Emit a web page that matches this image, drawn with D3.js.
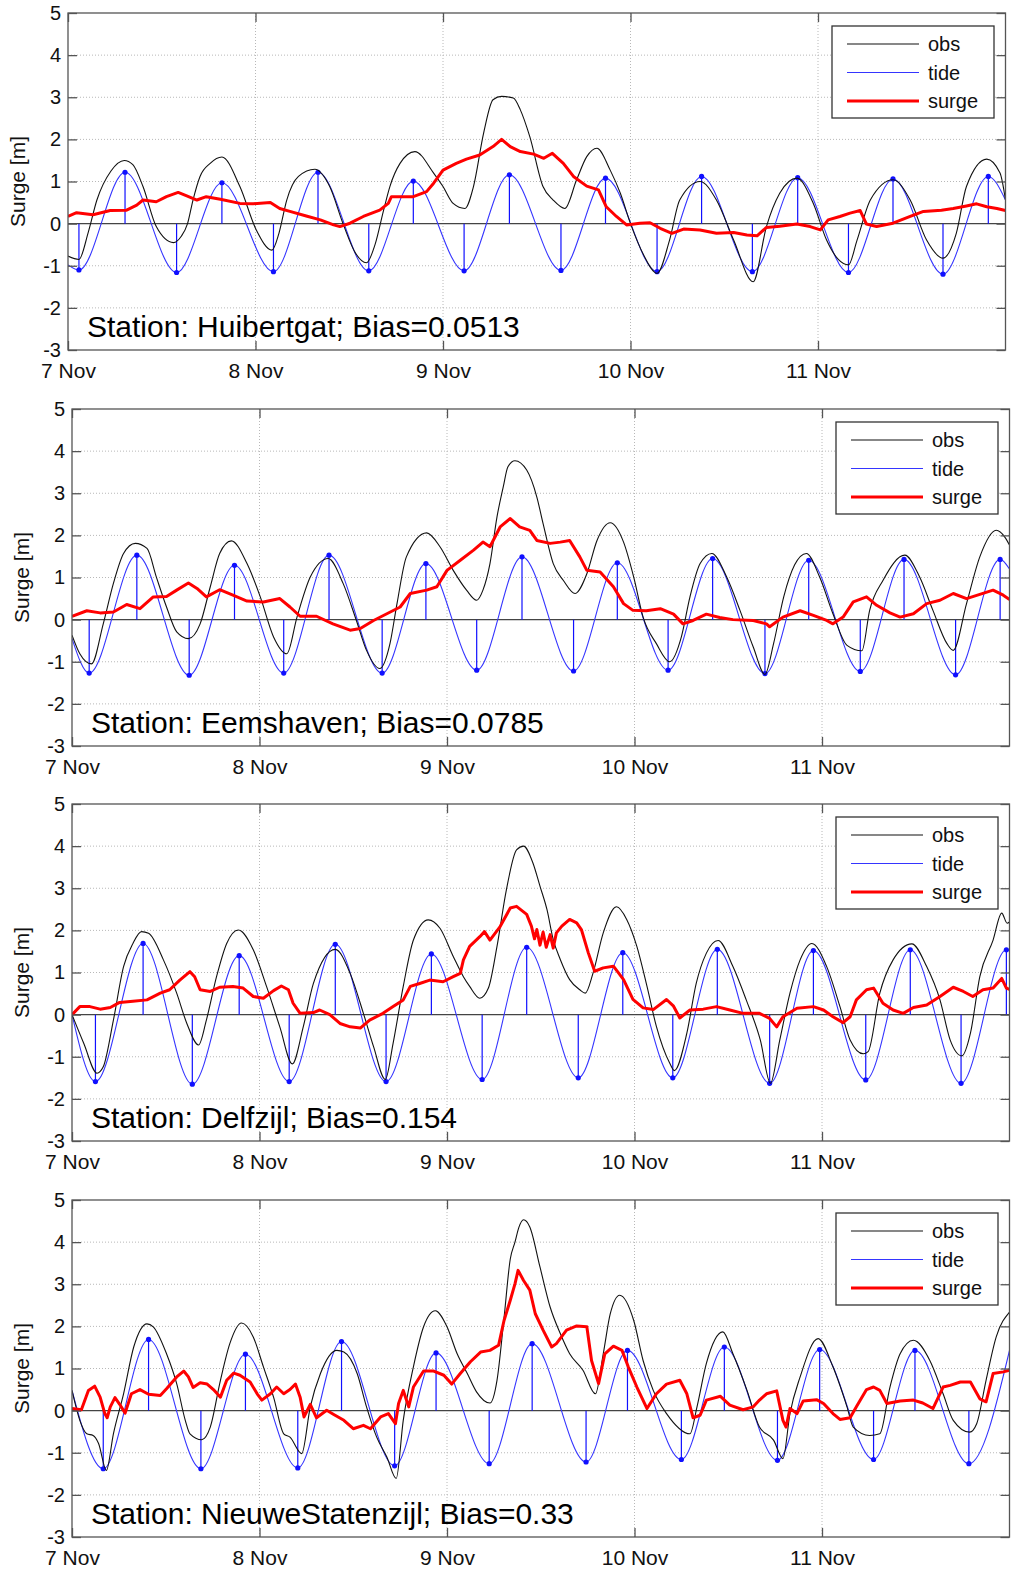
<!DOCTYPE html>
<html>
<head>
<meta charset="utf-8">
<script src="https://cdn.jsdelivr.net/npm/d3@7"></script>
<style>
  body { margin: 0; background: #fff; }
  svg { display: block; }
  text { font-family: "Liberation Sans", Arial, Helvetica, sans-serif; }
</style>
</head>
<body>
<svg id="chart" width="1013" height="1573"></svg>
<script>
// ---- axis labels -------------------------------------------------------
const dayLabels = ["7 Nov", "8 Nov", "9 Nov", "10 Nov", "11 Nov"];
const dayHours = [0, 24, 48, 72, 96];          // hours since 7 Nov 00:00
const surgeTicks = [-3, -2, -1, 0, 1, 2, 3, 4, 5];
const seriesNames = ["obs", "tide", "surge"];

const stationNames = ["Huibertgat", "Eemshaven", "Delfzijl", "NieuweStatenzijl"];
const stationBias = ["0.0513", "0.0785", "0.154", "0.33"];

// ---- Huibertgat: [hour, metres] -----------------------------------------
const huibertgatTide = [[0,-0.98],[1.4,-1.10],[7.3,1.22],[13.9,-1.16],[19.7,0.97],[26.3,-1.14],[32.0,1.22],[38.5,-1.12],[44.2,1.01],[50.7,-1.12],[56.5,1.16],[63.1,-1.11],[68.8,1.08],[75.4,-1.14],[81.1,1.12],[87.6,-1.14],[93.4,1.09],[99.9,-1.16],[105.6,1.06],[112.0,-1.20],[117.8,1.12],[120,0.56]];
const huibertgatObs = [[0,-0.77],[1.4,-0.85],[2.6,-0.2],[3.7,0.56],[5.5,1.25],[7.2,1.50],[8.3,1.40],[9.6,0.88],[11.3,-0.07],[13.5,-0.45],[14.5,-0.30],[15.3,0.0],[16.0,0.56],[16.9,1.12],[18.2,1.43],[19.7,1.58],[22,0.88],[24.1,-0.15],[26.1,-0.63],[27.0,-0.23],[28,0.56],[29.5,1.12],[31.6,1.29],[33.5,0.88],[35.2,0.0],[36.8,-0.70],[38.2,-0.93],[39.3,-0.5],[40.4,0.32],[41.2,0.88],[42.5,1.43],[44.4,1.71],[46.8,1.2],[48.0,0.88],[49.3,0.48],[50.8,0.36],[51.9,0.88],[53.2,2.15],[54.4,2.94],[55.5,3.02],[57.0,2.98],[57.9,2.70],[59.1,2.07],[60.8,0.88],[62.1,0.56],[63.6,0.36],[65.1,1.04],[66.4,1.59],[67.7,1.79],[69.4,1.27],[70.7,0.72],[72.0,0.0],[73.7,-0.75],[75.4,-1.18],[77.0,-0.39],[78.3,0.56],[80.9,1.0],[83.0,0.56],[85.2,-0.39],[87.7,-1.38],[89.4,-0.07],[91.1,0.72],[93.3,1.08],[95.4,0.48],[97.1,-0.39],[98.6,-0.85],[99.9,-0.98],[101,-0.39],[102.7,0.56],[105.6,1.04],[107.8,0.56],[109.9,-0.39],[112.0,-0.82],[113.7,-0.23],[115,0.88],[117.6,1.53],[119.3,1.2],[120,0.56]];
const huibertgatSurge = [[0,0.17],[1.1,0.26],[3.2,0.21],[5.4,0.31],[7.5,0.32],[8.8,0.44],[9.6,0.56],[11.3,0.52],[12.6,0.64],[14.1,0.74],[15.2,0.66],[16.5,0.56],[17.7,0.64],[19.5,0.58],[22,0.48],[23.7,0.47],[25.9,0.5],[27.1,0.36],[28.4,0.29],[30.5,0.18],[32.3,0.09],[34,-0.03],[34.8,-0.07],[36.1,0.01],[37.8,0.17],[39.9,0.32],[41,0.48],[41.4,0.64],[44.2,0.64],[45.9,0.76],[46.8,0.96],[48,1.27],[49.7,1.43],[51,1.53],[52.7,1.63],[54.4,1.83],[55.5,2.0],[56.6,1.83],[57.9,1.71],[59.6,1.65],[60.9,1.55],[62,1.67],[63.4,1.43],[64.7,1.12],[66.4,0.89],[67.9,0.80],[68.9,0.40],[70.2,0.17],[71.5,-0.03],[73.2,0.01],[74.5,0.02],[75.8,-0.11],[77.3,-0.23],[78.8,-0.13],[80.9,-0.15],[83,-0.23],[85.2,-0.21],[86.9,-0.27],[88.2,-0.29],[89.4,-0.09],[91.1,-0.06],[93.3,-0.01],[95,-0.07],[96.3,-0.15],[97.3,0.09],[98.8,0.17],[100.1,0.25],[101.4,0.31],[102.2,-0.01],[103.5,-0.07],[105.6,0.01],[107.8,0.17],[109.5,0.29],[111.8,0.32],[113.3,0.36],[115,0.42],[116.3,0.47],[117.6,0.40],[118.9,0.36],[120,0.31]];

// ---- Eemshaven ----------------------------------------------------------
const eemshavenTide = [[0,-0.45],[2.2,-1.27],[8.3,1.53],[15.0,-1.32],[20.8,1.29],[27.1,-1.27],[32.9,1.53],[39.7,-1.27],[45.3,1.33],[51.8,-1.20],[57.6,1.49],[64.2,-1.22],[69.8,1.35],[76.3,-1.20],[82.0,1.45],[88.7,-1.28],[94.3,1.41],[100.9,-1.23],[106.5,1.43],[113.1,-1.31],[118.8,1.43],[120,1.2]];
const eemshavenObs = [[0,-0.37],[1,-0.81],[2.5,-1.05],[4,-0.1],[5.3,0.86],[6.6,1.57],[8.1,1.81],[9.6,1.69],[10.8,1.01],[12.1,0.30],[13.4,-0.29],[14.9,-0.45],[16.4,-0.1],[17.7,0.78],[18.9,1.57],[20.4,1.87],[22.4,1.33],[24.1,0.54],[25.8,-0.41],[27.5,-0.81],[28.8,0.06],[30.5,1.01],[32.8,1.45],[34.7,0.86],[36.4,-0.02],[37.7,-0.73],[39.4,-1.16],[40.7,-0.57],[41.6,0.38],[42.8,1.49],[45.4,2.06],[47.1,1.73],[48.8,1.17],[50.5,0.70],[51.8,0.46],[52.6,0.70],[53.5,1.33],[54.4,2.44],[55.2,3.15],[55.8,3.63],[56.7,3.77],[58.2,3.55],[59.5,2.91],[60.3,2.28],[61.6,1.33],[62.9,0.93],[64.4,0.62],[65.9,1.09],[67.2,1.88],[68.9,2.30],[70.6,1.84],[71.9,1.01],[73.1,0.06],[74.8,-0.57],[76.5,-1.0],[78.0,-0.41],[79.1,0.54],[80.4,1.33],[81.9,1.57],[83.8,1.01],[85.5,0.22],[87.2,-0.65],[88.7,-1.30],[89.8,-0.57],[91.1,0.54],[92.5,1.3],[94.0,1.57],[95.7,1.01],[97.4,0.14],[99.2,-0.61],[101.1,-0.74],[102.1,0.22],[103.8,0.93],[106.6,1.53],[108.5,1.01],[110.2,0.22],[112.0,-0.57],[112.8,-0.73],[114.5,0.38],[116.2,1.49],[118.3,2.12],[119.4,1.96],[120,1.77]];
const eemshavenSurge = [[0,0.08],[1.9,0.21],[3.6,0.16],[5.3,0.18],[7.0,0.36],[8.7,0.26],[10.4,0.54],[12.1,0.55],[13.4,0.70],[14.9,0.87],[16.0,0.74],[17.2,0.54],[18.9,0.71],[20.6,0.58],[22.4,0.44],[24.5,0.42],[26.6,0.50],[27.9,0.30],[29.2,0.08],[31.3,0.08],[33.4,-0.10],[35.6,-0.25],[36.9,-0.21],[38.6,-0.02],[40.3,0.14],[42.0,0.30],[43.3,0.62],[45.4,0.70],[46.7,0.78],[48.0,1.17],[49.7,1.41],[51.4,1.65],[52.6,1.84],[53.5,1.73],[54.8,2.2],[56.1,2.40],[57.3,2.2],[58.6,2.12],[59.5,1.88],[61.2,1.81],[62.5,1.84],[63.7,1.88],[65.0,1.49],[65.9,1.17],[67.6,1.13],[69.3,0.78],[70.6,0.38],[71.8,0.22],[73.5,0.21],[75.3,0.26],[77.0,0.13],[78.2,-0.10],[79.5,-0.02],[81.2,0.13],[82.9,0.05],[84.6,0],[87.2,-0.02],[88.9,-0.10],[89.3,-0.17],[91.0,0.06],[93.2,0.21],[94.9,0.10],[96.6,-0.02],[97.4,-0.10],[98.7,0.06],[100.0,0.42],[101.7,0.54],[103.0,0.34],[104.7,0.16],[106.0,0.06],[107.7,0.14],[109.4,0.38],[111.1,0.46],[112.8,0.62],[114.5,0.50],[116.2,0.60],[117.9,0.70],[119.2,0.58],[120,0.48]];

// ---- Delfzijl -----------------------------------------------------------
const delfzijlTide = [[0,0],[3.0,-1.59],[9.1,1.69],[15.4,-1.65],[21.4,1.40],[27.8,-1.59],[33.7,1.67],[40.2,-1.59],[46.0,1.44],[52.5,-1.54],[58.2,1.60],[64.8,-1.50],[70.5,1.47],[76.9,-1.50],[82.6,1.55],[89.3,-1.63],[94.9,1.52],[101.6,-1.55],[107.3,1.54],[113.8,-1.63],[119.6,1.54],[120,1.52]];
const delfzijlObs = [[0,0],[1.5,-0.68],[3.2,-1.39],[4.0,-1.24],[5.3,-0.13],[6.6,1.14],[7.8,1.69],[8.9,1.97],[9.8,1.93],[11.7,1.30],[13.4,0.51],[14.7,-0.21],[16.2,-0.72],[17.2,-0.13],[18.5,0.90],[19.8,1.69],[21.3,2.01],[23.2,1.54],[24.9,0.67],[26.6,-0.29],[28.2,-1.17],[29.6,-0.29],[30.9,0.74],[33.7,1.55],[35.6,0.98],[37.3,0.03],[38.6,-0.76],[40.1,-1.54],[41.1,-0.68],[42.4,0.67],[43.7,1.77],[45.6,2.25],[47.1,2.05],[48.8,1.38],[50.1,0.90],[50.9,0.67],[52.2,0.39],[53.3,0.63],[54.4,1.62],[55.6,2.96],[56.9,3.91],[57.8,4.0],[59.0,3.6],[59.9,3.05],[60.8,2.49],[61.6,1.78],[62.5,1.31],[63.7,0.83],[65.0,0.59],[65.7,0.51],[66.7,0.99],[68.0,1.94],[69.7,2.56],[71.0,2.26],[72.3,1.62],[73.6,0.67],[74.8,-0.28],[76.5,-1.15],[77.1,-1.33],[78.7,-0.44],[79.9,0.74],[81.2,1.46],[82.7,1.76],[84.6,1.14],[86.3,0.35],[88.1,-0.60],[89.4,-1.63],[90.6,-0.60],[91.9,0.51],[93.2,1.30],[94.7,1.69],[96.6,1.14],[98.3,0.19],[99.6,-0.60],[101.3,-0.93],[101.9,-0.88],[103.4,0.51],[105.1,1.30],[107.5,1.68],[109.4,1.14],[111.1,0.35],[112.4,-0.60],[113.9,-0.98],[115.0,-0.44],[116.2,0.90],[117.9,1.77],[119.0,2.41],[119.7,2.17],[120,2.2]];
const delfzijlSurge = [[0,0],[1.0,0.19],[2.3,0.19],[3.6,0.13],[4.9,0.17],[6.1,0.29],[7.8,0.32],[9.6,0.35],[11.3,0.51],[12.5,0.59],[13.8,0.82],[15.1,1.02],[15.7,0.90],[16.4,0.59],[17.7,0.55],[18.9,0.65],[20.6,0.67],[21.9,0.63],[23.2,0.43],[24.5,0.39],[25.8,0.57],[26.8,0.68],[27.7,0.59],[28.3,0.27],[29.2,0.03],[30.9,0.05],[31.7,0.11],[33.0,0],[34.3,-0.21],[35.6,-0.29],[36.9,-0.32],[38.1,-0.13],[39.8,0.03],[41.1,0.19],[42.4,0.35],[43.3,0.67],[44.5,0.74],[45.8,0.82],[47.5,0.78],[48.8,0.90],[49.7,0.98],[50.1,1.30],[50.9,1.62],[52.2,1.85],[52.8,1.97],[53.5,1.77],[54.8,2.09],[56.1,2.53],[56.9,2.57],[58.2,2.38],[58.8,2.10],[59.2,1.80],[59.5,2.02],[59.9,1.65],[60.3,1.96],[60.7,1.60],[61.2,1.90],[61.6,1.58],[62.0,1.94],[62.7,2.10],[63.7,2.26],[64.6,2.18],[65.2,2.02],[66.1,1.46],[66.9,1.03],[68.0,1.11],[69.3,1.15],[70.6,0.83],[71.8,0.36],[73.1,0.16],[74.4,0.12],[76.1,0.36],[77.0,0.20],[77.8,-0.08],[79.1,0.11],[80.8,0.13],[82.5,0.19],[84.2,0.11],[85.9,0.03],[88.0,0.03],[89.3,-0.09],[90.2,-0.29],[91.0,-0.05],[92.8,0.15],[94.9,0.19],[96.2,0.11],[97.4,-0.05],[98.7,-0.19],[99.6,-0.05],[100.4,0.35],[101.7,0.59],[102.6,0.63],[103.8,0.27],[105.1,0.11],[106.4,0.03],[107.7,0.17],[109.4,0.23],[111.1,0.43],[112.8,0.65],[114.1,0.55],[115.3,0.43],[116.6,0.59],[117.9,0.63],[119.0,0.86],[119.6,0.63],[120,0.6]];

// ---- NieuweStatenzijl ---------------------------------------------------
const nieuweStatenzijlTide = [[0,0.48],[4.0,-1.38],[9.8,1.69],[16.5,-1.38],[22.2,1.34],[28.9,-1.36],[34.5,1.64],[41.3,-1.31],[46.6,1.37],[53.4,-1.26],[58.9,1.59],[65.8,-1.22],[71.1,1.43],[78.0,-1.16],[83.5,1.51],[90.3,-1.18],[95.7,1.45],[102.6,-1.16],[107.9,1.43],[114.8,-1.26],[120,1.43]];
const nieuweStatenzijlObs = [[0,0.48],[1.0,-0.23],[1.9,-0.55],[2.7,-0.59],[3.4,-0.78],[4.4,-1.42],[5.3,-0.55],[6.6,0.40],[7.9,1.51],[9.6,2.06],[10.4,1.99],[12.1,1.35],[13.4,0.64],[14.5,-0.23],[15.1,-0.55],[16.6,-0.69],[17.7,-0.39],[19.0,0.72],[20.2,1.59],[21.7,2.08],[23.2,1.75],[24.5,1.04],[25.8,0.32],[27.1,-0.55],[27.9,-0.63],[29.4,-1.02],[30.5,0.09],[31.8,0.88],[33.9,1.43],[34.8,1.39],[36.5,0.88],[37.7,0.09],[39.0,-0.63],[40.3,-1.10],[41.5,-1.61],[42.4,-0.23],[43.7,1.04],[45.0,1.99],[46.5,2.37],[48.0,1.99],[49.3,1.35],[50.6,0.88],[51.8,0.44],[53.5,0.18],[54.4,0.72],[55.3,2.2],[56.1,3.6],[56.7,4.0],[57.2,4.35],[57.8,4.53],[58.6,4.36],[59.9,3.41],[61.2,2.46],[62.5,1.83],[63.7,1.35],[65.4,0.96],[67.0,0.40],[68.0,1.35],[68.9,2.30],[70.1,2.74],[71.9,2.14],[73.1,1.19],[74.4,0.48],[76.1,-0.07],[79.1,-0.55],[80.0,0.09],[81.2,1.12],[83.3,1.87],[84.6,1.35],[86.4,0.48],[88.0,-0.39],[89.8,-0.70],[91.0,-1.14],[91.9,-0.07],[93.2,0.80],[95.5,1.71],[97.4,1.04],[99.2,0.09],[100.0,-0.39],[102.1,-0.59],[103.4,-0.55],[104.7,0.56],[106.0,1.35],[107.7,1.67],[109.8,1.19],[111.5,0.40],[112.8,-0.23],[114.9,-0.51],[115.8,-0.31],[117.0,0.72],[118.3,1.75],[120,2.34]];
const nieuweStatenzijlSurge = [[0,0.05],[1.2,0.02],[2.1,0.48],[2.9,0.58],[3.6,0.32],[4.2,-0.07],[4.5,-0.17],[4.9,0.09],[5.5,0.31],[6.1,0.15],[6.8,-0.06],[7.6,0.40],[8.7,0.50],[9.8,0.39],[11.3,0.36],[12.1,0.52],[13.4,0.80],[14.3,0.94],[14.9,0.80],[15.5,0.55],[16.4,0.66],[17.3,0.63],[18.1,0.50],[19.0,0.32],[19.8,0.72],[20.7,0.89],[21.5,0.84],[22.8,0.68],[23.7,0.40],[24.3,0.25],[25.4,0.40],[26.2,0.56],[27.1,0.40],[27.9,0.50],[28.6,0.63],[29.2,0.32],[29.7,-0.15],[30.5,0.15],[31.3,-0.17],[32.6,0.01],[33.5,-0.09],[34.8,-0.23],[36.0,-0.43],[37.3,-0.35],[38.2,-0.43],[39.5,-0.15],[40.5,-0.07],[41.4,-0.31],[41.8,0.17],[42.4,0.48],[43.1,0.09],[43.7,0.56],[45.0,0.94],[46.3,0.94],[47.6,0.84],[48.6,0.63],[49.7,0.88],[51.0,1.16],[52.3,1.39],[53.5,1.43],[54.6,1.55],[55.3,2.14],[56.1,2.62],[56.7,3.01],[57.1,3.33],[57.8,3.09],[58.6,2.86],[59.3,2.30],[60.3,1.91],[61.4,1.51],[62.0,1.59],[63.3,1.91],[64.6,2.01],[65.9,1.99],[66.5,1.19],[67.4,0.64],[68.2,1.35],[69.3,1.53],[70.4,1.43],[71.2,1.04],[72.3,0.56],[73.6,0.05],[74.8,0.40],[76.1,0.63],[77.8,0.72],[78.7,0.40],[79.5,-0.17],[80.4,-0.11],[81.2,0.25],[83.0,0.34],[84.2,0.13],[85.9,0.02],[87.2,0.09],[88.0,0.25],[88.9,0.40],[90.2,0.47],[91.0,-0.23],[91.4,-0.39],[91.9,0.05],[92.8,-0.07],[93.6,0.23],[95.3,0.26],[96.2,0.17],[97.4,-0.07],[98.3,-0.21],[99.6,-0.17],[100.4,0.09],[101.7,0.50],[102.6,0.56],[103.4,0.48],[104.3,0.17],[106.0,0.23],[107.7,0.25],[108.9,0.18],[110.2,0.05],[111.5,0.56],[112.4,0.60],[113.7,0.68],[115.0,0.68],[116.2,0.28],[117.0,0.21],[117.9,0.88],[119.2,0.92],[120,0.96]];

const tideSeries = [huibertgatTide, eemshavenTide, delfzijlTide, nieuweStatenzijlTide];
const obsSeries = [huibertgatObs, eemshavenObs, delfzijlObs, nieuweStatenzijlObs];
const surgeSeries = [huibertgatSurge, eemshavenSurge, delfzijlSurge, nieuweStatenzijlSurge];

// ---- layout -------------------------------------------------------------
const panelFrames = [
  { left: 68, right: 1005.5, top: 13,   bottom: 350 },
  { left: 72, right: 1009.5, top: 409,  bottom: 746 },
  { left: 72, right: 1009.5, top: 804,  bottom: 1141 },
  { left: 72, right: 1009.5, top: 1200, bottom: 1537 }
];
const colors = { obs: "#111111", tide: "#3535ff", stem: "#1010ff", surge: "#ff0000", frame: "#555555", grid: "#b8b8b8" };
const widths = { obs: 1.1, tide: 1.1, surge: 3 };

const svg = d3.select("#chart");
svg.append("rect").attr("width", 1013).attr("height", 1573).attr("fill", "#fff");

stationNames.forEach((name, i) => {
  const f = panelFrames[i];
  const x = d3.scaleLinear().domain([0, 120]).range([f.left, f.right]);
  const y = d3.scaleLinear().domain([-3, 5]).range([f.bottom, f.top]);
  const g = svg.append("g");

  // dotted grid
  const grid = g.append("g").attr("stroke", colors.grid).attr("stroke-width", 1).attr("stroke-dasharray", "1,2");
  grid.selectAll(".gy").data(surgeTicks.filter(t => t > -3 && t < 5 && t !== 0)).join("line")
    .attr("x1", f.left).attr("x2", f.right).attr("y1", d => y(d)).attr("y2", d => y(d));
  grid.selectAll(".gx").data(dayHours.filter(h => h > 0)).join("line")
    .attr("y1", f.top).attr("y2", f.bottom).attr("x1", d => x(d)).attr("x2", d => x(d));

  // stem baseline
  g.append("line").attr("x1", f.left).attr("x2", f.right).attr("y1", y(0)).attr("y2", y(0))
    .attr("stroke", "#444").attr("stroke-width", 1.3);

  const clipId = "clip" + i;
  svg.append("clipPath").attr("id", clipId).append("rect")
    .attr("x", f.left).attr("y", f.top).attr("width", f.right - f.left).attr("height", f.bottom - f.top);
  const plot = g.append("g").attr("clip-path", `url(#${clipId})`);

  const smooth = d3.line().x(d => x(d[0])).y(d => y(d[1])).curve(d3.curveMonotoneX);
  const straight = d3.line().x(d => x(d[0])).y(d => y(d[1]));

  const tide = tideSeries[i];
  const extremes = tide.filter(d => d[0] > 0 && d[0] < 120);

  // tide stems at high / low water
  plot.selectAll(".stem").data(extremes).join("line")
    .attr("x1", d => x(d[0])).attr("x2", d => x(d[0]))
    .attr("y1", y(0)).attr("y2", d => y(d[1]))
    .attr("stroke", colors.stem).attr("stroke-width", 1.2);

  plot.append("path").datum(tide).attr("d", smooth)
    .attr("fill", "none").attr("stroke", colors.tide).attr("stroke-width", widths.tide);

  plot.selectAll(".mark").data(extremes).join("circle")
    .attr("cx", d => x(d[0])).attr("cy", d => y(d[1])).attr("r", 2.6).attr("fill", colors.stem);

  plot.append("path").datum(obsSeries[i]).attr("d", smooth)
    .attr("fill", "none").attr("stroke", colors.obs).attr("stroke-width", widths.obs);

  plot.append("path").datum(surgeSeries[i]).attr("d", straight)
    .attr("fill", "none").attr("stroke", colors.surge).attr("stroke-width", widths.surge)
    .attr("stroke-linejoin", "round");

  // frame
  g.append("rect").attr("x", f.left).attr("y", f.top)
    .attr("width", f.right - f.left).attr("height", f.bottom - f.top)
    .attr("fill", "none").attr("stroke", colors.frame).attr("stroke-width", 1.3);

  // axes with inward ticks on all four sides
  const styleAxis = sel => {
    sel.select(".domain").remove();
    sel.selectAll(".tick line").attr("stroke", colors.frame).attr("stroke-width", 1.3);
    sel.selectAll(".tick text").attr("fill", "#111").attr("font-size", 20)
      .attr("font-family", '"Liberation Sans", Arial, sans-serif');
  };
  g.append("g").attr("transform", `translate(${f.left},0)`)
    .call(d3.axisLeft(y).tickValues(surgeTicks).tickFormat(d => String(d)).tickSizeInner(-9).tickSizeOuter(0).tickPadding(7))
    .call(styleAxis);
  g.append("g").attr("transform", `translate(${f.right},0)`)
    .call(d3.axisRight(y).tickValues(surgeTicks).tickFormat("").tickSizeInner(-9).tickSizeOuter(0))
    .call(styleAxis);
  g.append("g").attr("transform", `translate(0,${f.bottom})`)
    .call(d3.axisBottom(x).tickValues(dayHours).tickFormat((d, k) => dayLabels[k]).tickSizeInner(-9).tickSizeOuter(0).tickPadding(13))
    .call(styleAxis)
    .call(sel => sel.selectAll(".tick text").attr("font-size", 21));
  g.append("g").attr("transform", `translate(0,${f.top})`)
    .call(d3.axisTop(x).tickValues(dayHours).tickFormat("").tickSizeInner(-9).tickSizeOuter(0))
    .call(styleAxis);

  // y-axis title
  g.append("text")
    .attr("transform", `translate(${f.left - 43},${(f.top + f.bottom) / 2}) rotate(-90)`)
    .attr("text-anchor", "middle").attr("font-size", 21).attr("fill", "#111")
    .text("Surge [m]");

  // station annotation
  g.append("text").attr("x", f.left + 19).attr("y", f.bottom - 13)
    .attr("font-size", 30).attr("fill", "#000")
    .text(`Station: ${name}; Bias=${stationBias[i]}`);

  // legend
  const lx = f.right - 173.5, ly = f.top + 13;
  const legend = g.append("g").attr("transform", `translate(${lx},${ly})`);
  legend.append("rect").attr("width", 162).attr("height", 92)
    .attr("fill", "#fff").attr("stroke", "#333").attr("stroke-width", 1.3);
  seriesNames.forEach((s, k) => {
    const ry = 18 + k * 28.5;
    legend.append("line").attr("x1", 15).attr("x2", 87).attr("y1", ry).attr("y2", ry)
      .attr("stroke", colors[s]).attr("stroke-width", widths[s]);
    legend.append("text").attr("x", 96).attr("y", ry + 7).attr("font-size", 20).attr("fill", "#111").text(s);
  });
});
</script>
</body>
</html>
